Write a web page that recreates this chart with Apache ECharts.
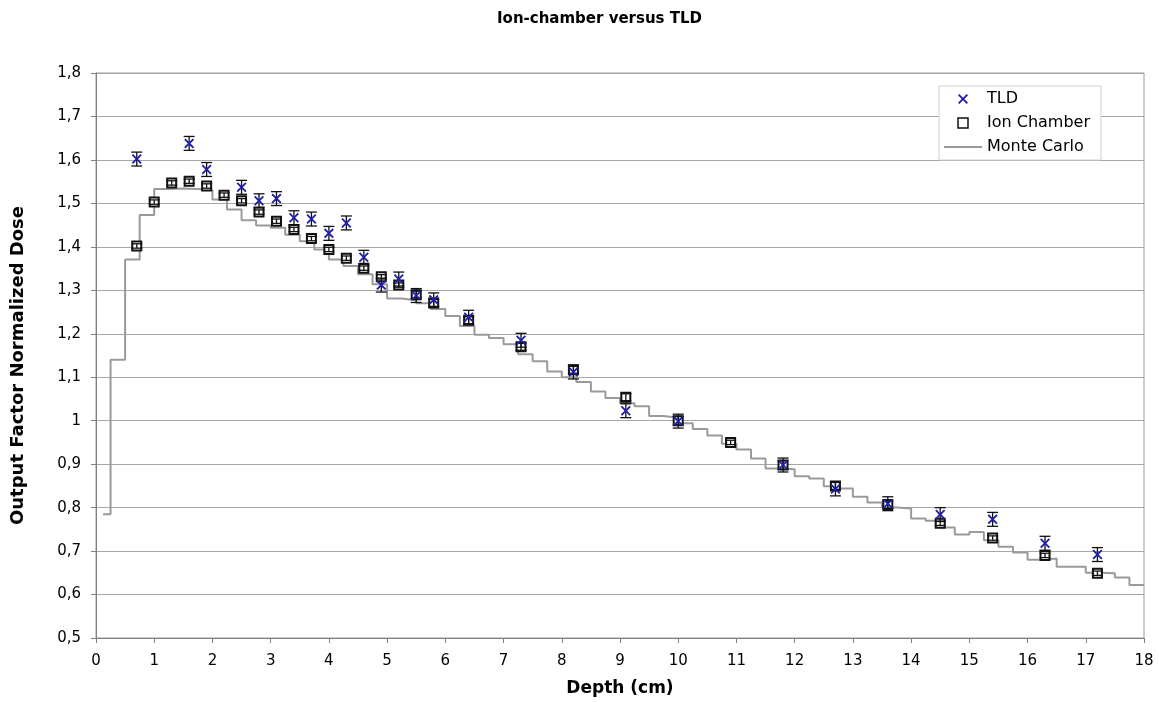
<!DOCTYPE html>
<html>
<head>
<meta charset="utf-8">
<script src="https://cdn.jsdelivr.net/npm/echarts@6/dist/echarts.min.js"></script>
<style>
html,body{margin:0;padding:0;background:#fff;}
#chart{width:1159px;height:702px;}
</style>
</head>
<body>
<div id="chart"></div>
<script>
// ---- Data ----
const tldX   = [0.7, 1.6, 1.9, 2.5, 2.8, 3.1, 3.4, 3.7, 4.0, 4.3, 4.6, 4.9, 5.2, 5.5, 5.8, 6.4, 7.3, 8.2, 9.1, 10.0, 11.8, 12.7, 13.6, 14.5, 15.4, 16.3, 17.2];
const tldY   = [1.602, 1.638, 1.578, 1.537, 1.506, 1.511, 1.467, 1.464, 1.431, 1.455, 1.376, 1.312, 1.326, 1.288, 1.278, 1.238, 1.185, 1.112, 1.023, 0.999, 0.898, 0.843, 0.809, 0.784, 0.773, 0.718, 0.692];
const tldErr = [0.016, 0.016, 0.016, 0.016, 0.016, 0.016, 0.016, 0.016, 0.016, 0.016, 0.016, 0.016, 0.016, 0.016, 0.016, 0.016, 0.016, 0.016, 0.016, 0.016, 0.016, 0.016, 0.016, 0.016, 0.016, 0.016, 0.016];

const ionX   = [0.7, 1.0, 1.3, 1.6, 1.9, 2.2, 2.5, 2.8, 3.1, 3.4, 3.7, 4.0, 4.3, 4.6, 4.9, 5.2, 5.5, 5.8, 6.4, 7.3, 8.2, 9.1, 10.0, 10.9, 11.8, 12.7, 13.6, 14.5, 15.4, 16.3, 17.2];
const ionY   = [1.402, 1.503, 1.547, 1.551, 1.540, 1.519, 1.506, 1.480, 1.459, 1.440, 1.419, 1.394, 1.374, 1.351, 1.331, 1.312, 1.290, 1.271, 1.231, 1.170, 1.117, 1.054, 1.000, 0.950, 0.898, 0.850, 0.807, 0.764, 0.730, 0.690, 0.649];
const ionErr = [0.005, 0.005, 0.005, 0.005, 0.005, 0.005, 0.005, 0.005, 0.005, 0.005, 0.005, 0.005, 0.005, 0.005, 0.005, 0.005, 0.008, 0.008, 0.008, 0.008, 0.008, 0.008, 0.010, 0.005, 0.010, 0.008, 0.008, 0.005, 0.005, 0.005, 0.005];

// Monte Carlo step curve: left edge of each bin and its value (last point closes the curve at 18 cm)
const mcX = [0.12, 0.25, 0.5, 0.75, 1.0, 1.25, 1.5, 1.75, 2.0, 2.25, 2.5, 2.75, 3.0, 3.25, 3.5, 3.75,
             4.0, 4.25, 4.5, 4.75, 5.0, 5.25, 5.5, 5.75, 6.0, 6.25, 6.5, 6.75, 7.0, 7.25, 7.5, 7.75,
             8.0, 8.25, 8.5, 8.75, 9.0, 9.25, 9.5, 9.75, 10.0, 10.25, 10.5, 10.75, 11.0, 11.25, 11.5, 11.75,
             12.0, 12.25, 12.5, 12.75, 13.0, 13.25, 13.5, 13.75, 14.0, 14.25, 14.5, 14.75, 15.0, 15.25, 15.5, 15.75,
             16.0, 16.25, 16.5, 16.75, 17.0, 17.25, 17.5, 17.75, 18.0];
const mcY = [0.785, 1.140, 1.371, 1.473, 1.533, 1.534, 1.533, 1.531, 1.509, 1.486, 1.461, 1.449, 1.444, 1.428, 1.413, 1.394,
             1.371, 1.356, 1.337, 1.314, 1.281, 1.277, 1.270, 1.257, 1.241, 1.218, 1.198, 1.190, 1.176, 1.153, 1.137, 1.113,
             1.100, 1.089, 1.067, 1.052, 1.040, 1.033, 1.011, 1.007, 0.994, 0.981, 0.966, 0.947, 0.934, 0.913, 0.890, 0.888,
             0.872, 0.867, 0.849, 0.844, 0.825, 0.812, 0.800, 0.798, 0.775, 0.770, 0.754, 0.738, 0.744, 0.725, 0.710, 0.697,
             0.680, 0.683, 0.664, 0.664, 0.650, 0.649, 0.639, 0.622, 0.622];

const xTicks = [0, 18, 1];
const yTicks = [0.5, 1.8, 0.1];

// ---- Build ----
const FONT = '"DejaVu Sans", Verdana, sans-serif';
const zip = (a, b, c) => a.map((v, i) => c ? [v, b[i], c[i]] : [v, b[i]]);
const X_PATH = 'path://M1.3,0 L5,3.7 L8.7,0 L10,1.3 L6.3,5 L10,8.7 L8.7,10 L5,6.3 L1.3,10 L0,8.7 L3.7,5 L0,1.3 Z';
const SQ_PATH = 'path://M0,0H10V10H0Z';
const LINE_PATH = 'path://M0,0H38V2H0Z';

function errRender(params, api) {
  const x = api.value(0), y = api.value(1), e = api.value(2);
  const t = api.coord([x, y + e]);
  const b = api.coord([x, y - e]);
  const hw = 5.5;
  const st = { stroke: '#111', lineWidth: 1.3 };
  return {
    type: 'group',
    children: [
      { type: 'line', shape: { x1: t[0], y1: t[1], x2: b[0], y2: b[1] }, style: st },
      { type: 'line', shape: { x1: t[0] - hw, y1: t[1], x2: t[0] + hw, y2: t[1] }, style: st },
      { type: 'line', shape: { x1: b[0] - hw, y1: b[1], x2: b[0] + hw, y2: b[1] }, style: st }
    ]
  };
}

const chart = echarts.init(document.getElementById('chart'), null, { renderer: 'canvas' });
chart.setOption({
  backgroundColor: '#fff',
  animation: false,
  textStyle: { fontFamily: FONT },
  title: {
    text: 'Ion-chamber versus TLD',
    left: 492, top: 7,
    textStyle: { fontFamily: FONT, fontSize: 15, fontWeight: 'bold', color: '#000' }
  },
  grid: { left: 96, right: 15, top: 73, bottom: 62, show: true, borderColor: '#9a9a9a', borderWidth: 1, backgroundColor: 'transparent' },
  legend: {
    orient: 'vertical',
    left: 939, top: 86,
    padding: [5, 11, 5, 5],
    itemGap: 8,
    itemWidth: 38, itemHeight: 10,
    backgroundColor: '#fff',
    borderColor: '#d0d0d0', borderWidth: 1,
    textStyle: { fontFamily: FONT, fontSize: 16, color: '#000' },
    data: [
      { name: 'TLD', icon: X_PATH, itemStyle: { color: '#1f1fa8' } },
      { name: 'Ion Chamber', icon: SQ_PATH, itemStyle: { color: '#fff', borderColor: '#111', borderWidth: 1.5 } },
      { name: 'Monte Carlo', icon: LINE_PATH, itemStyle: { color: '#9a9a9a' } }
    ]
  },
  xAxis: {
    type: 'value',
    min: xTicks[0], max: xTicks[1], interval: xTicks[2],
    name: 'Depth (cm)', nameLocation: 'middle', nameGap: 42,
    nameTextStyle: { fontFamily: FONT, fontSize: 17, fontWeight: 'bold', color: '#000' },
    axisLine: { show: true, onZero: false, lineStyle: { color: '#808080', width: 1 } },
    axisTick: { show: true, inside: false, length: 5, lineStyle: { color: '#808080' } },
    axisLabel: { fontFamily: FONT, fontSize: 15, color: '#000', margin: 16 },
    splitLine: { show: false }
  },
  yAxis: {
    type: 'value',
    min: yTicks[0], max: yTicks[1], interval: yTicks[2],
    name: 'Output Factor Normalized Dose', nameLocation: 'middle', nameGap: 69,
    nameTextStyle: { fontFamily: FONT, fontSize: 18, fontWeight: 'bold', color: '#000', padding: [0, 20, 0, 0] },
    axisLine: { show: true, lineStyle: { color: '#808080', width: 1 } },
    axisTick: { show: true, inside: false, length: 5, lineStyle: { color: '#808080' } },
    axisLabel: {
      fontFamily: FONT, fontSize: 15, color: '#000', margin: 15,
      formatter: v => String(Math.round(v * 10) / 10).replace('.', ',')
    },
    splitLine: { show: true, lineStyle: { color: '#a6a6a6', width: 1 } }
  },
  series: [
    {
      name: 'Monte Carlo', type: 'line', step: 'end',
      data: zip(mcX, mcY),
      symbol: 'none', showSymbol: false,
      lineStyle: { color: '#9a9a9a', width: 2 },
      itemStyle: { color: '#9a9a9a' },
      z: 2
    },
    {
      name: 'Ion Chamber', type: 'scatter',
      data: zip(ionX, ionY),
      symbol: 'rect', symbolSize: 9,
      itemStyle: { color: '#fff', borderColor: '#111', borderWidth: 2, opacity: 1 },
      z: 3
    },
    {
      name: 'ionErr', type: 'custom',
      data: zip(ionX, ionY, ionErr),
      renderItem: errRender,
      encode: { x: 0, y: 1 },
      z: 4, silent: true
    },
    {
      name: 'tldErr', type: 'custom',
      data: zip(tldX, tldY, tldErr),
      renderItem: errRender,
      encode: { x: 0, y: 1 },
      z: 4, silent: true
    },
    {
      name: 'TLD', type: 'scatter',
      data: zip(tldX, tldY),
      symbol: X_PATH, symbolSize: 10,
      itemStyle: { color: '#1f1fa8', opacity: 1 },
      z: 5
    }
  ]
});
</script>
</body>
</html>
